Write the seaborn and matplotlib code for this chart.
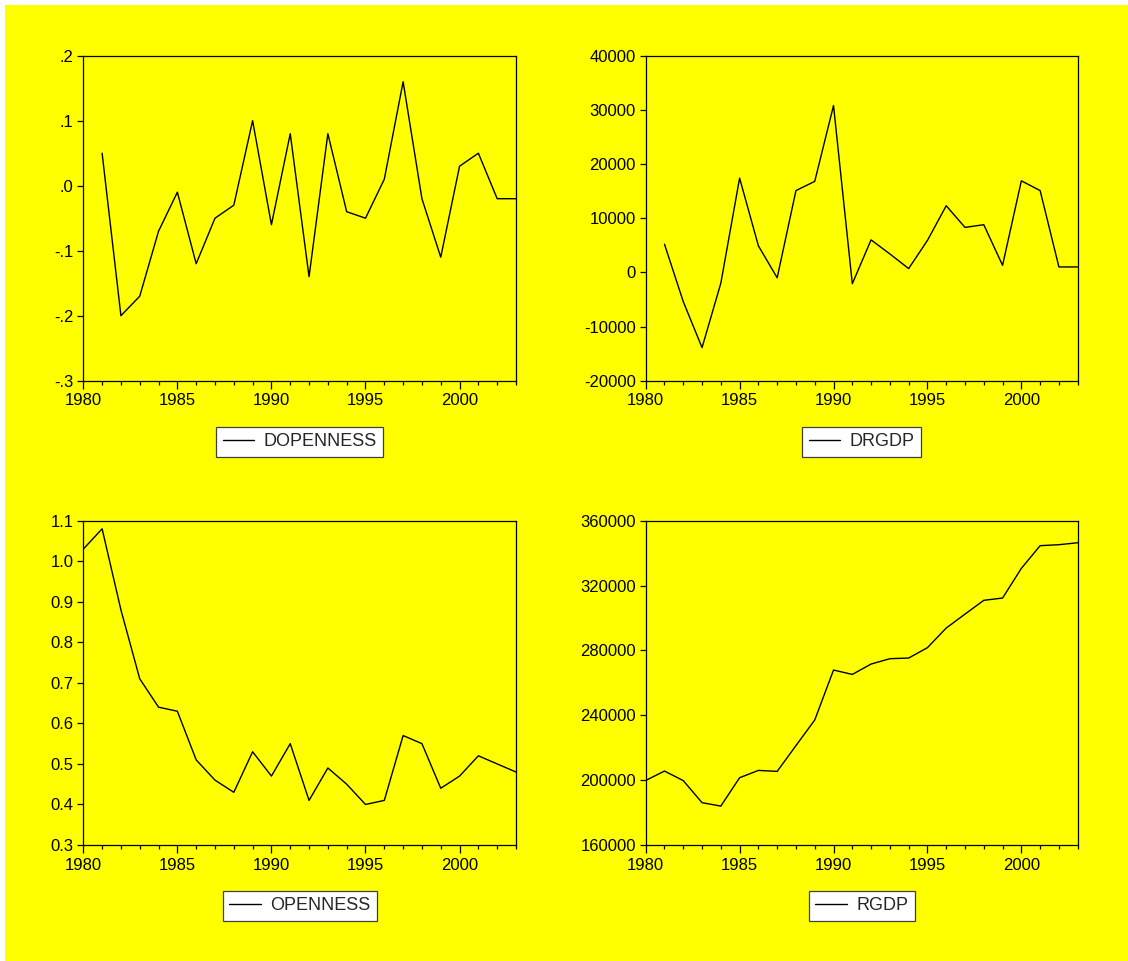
import numpy as np
import pandas as pd
import matplotlib
matplotlib.use("Agg")
import matplotlib.pyplot as plt
from matplotlib.patches import Rectangle
from matplotlib.ticker import MultipleLocator, FixedLocator, FuncFormatter
import seaborn as sns

# ---- data -------------------------------------------------------------
years = list(range(1980, 2004))
diff_years = list(range(1981, 2004))

openness = [1.03, 1.08, 0.88, 0.71, 0.64, 0.63, 0.51, 0.46, 0.43, 0.53,
            0.47, 0.55, 0.41, 0.49, 0.45, 0.40, 0.41, 0.57, 0.55, 0.44,
            0.47, 0.52, 0.50, 0.48]

dopenness = [0.05, -0.20, -0.17, -0.07, -0.01, -0.12, -0.05, -0.03, 0.10,
             -0.06, 0.08, -0.14, 0.08, -0.04, -0.05, 0.01, 0.16, -0.02,
             -0.11, 0.03, 0.05, -0.02, -0.02]

rgdp = [199800, 205600, 199700, 186100, 184000, 201500, 206000, 205400,
        221300, 237100, 267900, 265200, 271600, 274900, 275300, 281700,
        293800, 302400, 310900, 312300, 330600, 344600, 345200, 346400]

drgdp = [5200, -5400, -13900, -2000, 17400, 4900, -1000, 15100, 16800,
         30800, -2100, 6000, 3400, 700, 5900, 12300, 8300, 8800, 1300,
         16900, 15100, 1000, 1000]

# ---- style ------------------------------------------------------------
sns.set_theme(style="ticks")
YELLOW = "#FFFF00"
plt.rcParams.update({
    "font.family": ["Liberation Sans", "DejaVu Sans"],
    "font.size": 12,
    "axes.unicode_minus": False,
    "axes.facecolor": YELLOW,
    "axes.edgecolor": "black",
    "axes.linewidth": 0.9,
    "xtick.color": "black",
    "ytick.color": "black",
    "xtick.labelsize": 12,
    "ytick.labelsize": 12,
})

W, H = 1128, 961
fig = plt.figure(figsize=(W / 100, H / 100), dpi=100, facecolor="white")
# yellow page background, leaving a thin white strip top and left
fig.patches.append(Rectangle((5 / W, 0), 1 - 5 / W, 1 - 5 / H,
                             transform=fig.transFigure, facecolor=YELLOW,
                             edgecolor="none", zorder=-10))


def frac_box(left, top, right, bottom):
    return [left / W, 1 - bottom / H, (right - left) / W, (bottom - top) / H]


def trim_zero(v, _pos):
    s = f"{v:.1f}"
    if s.startswith("0."):
        s = s[1:]
    elif s.startswith("-0."):
        s = "-" + s[2:]
    return s


panels = [
    dict(box=frac_box(83.3, 55.7, 516, 380.7), x=diff_years, y=dopenness,
         name="DOPENNESS", ylim=(-0.3, 0.2), step=0.1, fmt=trim_zero,
         leg_top=427),
    dict(box=frac_box(645.7, 55.7, 1077.7, 380.7), x=diff_years, y=drgdp,
         name="DRGDP", ylim=(-20000, 40000), step=10000,
         fmt=lambda v, p: f"{v:.0f}", leg_top=427),
    dict(box=frac_box(83.3, 520.7, 516, 845), x=years, y=openness,
         name="OPENNESS", ylim=(0.3, 1.1), step=0.1,
         fmt=lambda v, p: f"{v:.1f}", leg_top=891),
    dict(box=frac_box(645.7, 520.7, 1077.7, 845), x=years, y=rgdp,
         name="RGDP", ylim=(160000, 360000), step=40000,
         fmt=lambda v, p: f"{v:.0f}", leg_top=891),
]

for p in panels:
    ax = fig.add_axes(p["box"])
    df = pd.DataFrame({"year": p["x"], "value": p["y"]})
    sns.lineplot(data=df, x="year", y="value", ax=ax, color="black",
                 linewidth=1.0, label=p["name"])
    ax.set_xlim(1980, 2003)
    ax.set_ylim(*p["ylim"])
    ax.set_xlabel("")
    ax.set_ylabel("")
    ax.xaxis.set_major_locator(FixedLocator([1980, 1985, 1990, 1995, 2000]))
    ax.xaxis.set_minor_locator(MultipleLocator(1))
    ax.yaxis.set_major_locator(MultipleLocator(p["step"]))
    ax.yaxis.set_major_formatter(FuncFormatter(p["fmt"]))
    ax.tick_params(axis="x", which="major", direction="out", length=6,
                   width=0.9, pad=3)
    ax.tick_params(axis="x", which="minor", direction="out", length=3,
                   width=0.9)
    ax.tick_params(axis="y", which="major", direction="out", length=4,
                   width=0.9, pad=3)
    for s in ax.spines.values():
        s.set_visible(True)
        s.set_color("black")
        s.set_linewidth(0.9)

    handles, labels = ax.get_legend_handles_labels()
    ax.get_legend().remove()
    cx = p["box"][0] + p["box"][2] / 2
    leg = fig.legend(handles, labels, loc="upper center",
                     bbox_to_anchor=(cx, 1 - p["leg_top"] / H),
                     bbox_transform=fig.transFigure, borderaxespad=0,
                     frameon=True, fancybox=False, framealpha=1,
                     edgecolor="#404040", facecolor="white", fontsize=13,
                     handlelength=1.75, handletextpad=0.5, borderpad=0.36)
    leg.get_frame().set_linewidth(0.9)
    for line in leg.get_lines():
        line.set_linewidth(1.0)

fig.savefig("out.png", dpi=100, facecolor=fig.get_facecolor())
